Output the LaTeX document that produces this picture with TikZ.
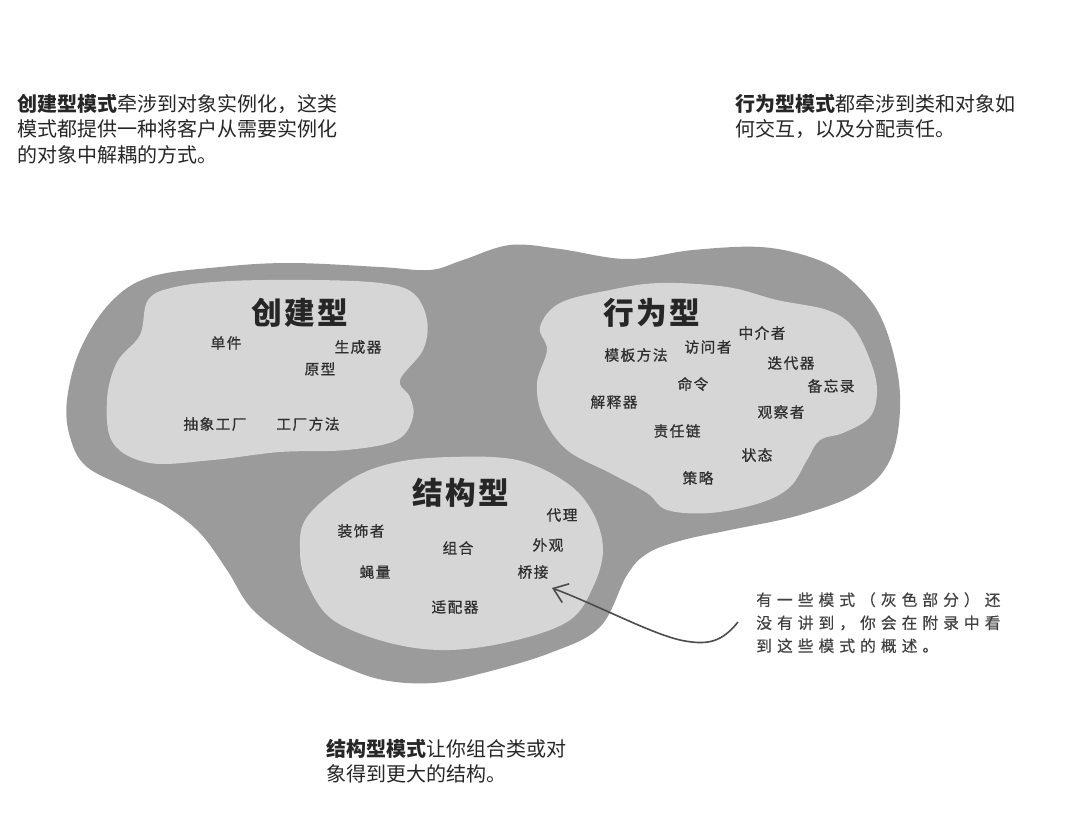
\documentclass[tikz,border=0pt]{standalone}
\usepackage{fontspec}
\setmainfont{Noto Sans CJK SC}
\newfontfamily\kindfont[LetterSpace=8]{Noto Sans CJK SC}
\newfontfamily\patfont[LetterSpace=10,FakeBold=0.8]{Noto Sans CJK SC}
\newfontfamily\remfont[LetterSpace=32,FakeBold=0.4]{Noto Sans CJK SC}
\usepackage{xcolor}
\usepackage{tikz}
\usetikzlibrary{arrows.meta}
\definecolor{outergray}{RGB}{155,155,155}
\definecolor{innergray}{RGB}{214,214,214}

\begin{document}
\begin{tikzpicture}[
		x=0.75pt, y=-0.75pt,
		blurb/.style={
			anchor=north west,
			inner sep=0pt,
			align=left,
			text=black!85,
			font=\fontsize{15}{19}\selectfont
		},
		kind/.style={
			inner sep=0pt,
			text=black!85,
			font=\kindfont\bfseries\fontsize{23}{26}\selectfont
		},
		pat/.style={
			inner sep=0pt,
			text=black!82,
			font=\patfont\fontsize{11}{13}\selectfont
		},
		remark/.style={
			anchor=north west,
			inner sep=0pt,
			align=left,
			text=black!75,
			font=\remfont\fontsize{11.8}{17.25}\selectfont
		},
		pointer/.style={
			-{Straight Barb[length=10pt,width=15pt]},
			line width=1.2pt,
			black!70
		}
		]
		\useasboundingbox (0,0) rectangle (1069,827);
		% Blobs
		\fill[outergray] plot[smooth cycle, tension=0.6] coordinates {
			(150,277) (220,267) (290,263) (380,267) (430,270) (463,260)
			(510,245) (560,249) (627,259) (693,250) (760,247) (810,257)
			(845,275) (877,310) (895,360) (900,410) (890,460) (860,492)
			(800,515) (730,530) (683,540) (648,553) (627,575) (600,627)
			(550,653) (483,673) (433,683) (383,680) (340,665) (300,645)
			(253,610) (227,570) (200,533) (167,507) (133,490) (87,467)
			(70,437) (67,400) (80,350) (110,303)};
		\fill[innergray] plot[smooth cycle, tension=0.6] coordinates {
			(148,300) (175,287) (230,281) (313,280) (380,283) (413,293)
			(427,320) (423,350) (400,380) (410,397) (413,417) (397,440)
			(347,450) (280,452) (213,460) (150,463) (113,443) (107,400)
			(117,362) (140,335)};
		\fill[innergray] plot[smooth cycle, tension=0.6] coordinates {
			(540,327) (560,303) (610,290) (660,283) (727,287) (777,300)
			(827,310) (853,327) (870,360) (877,390) (870,417) (843,433)
			(820,440) (807,460) (790,487) (760,503) (710,513) (667,510)
			(647,493) (610,473) (567,450) (543,417) (537,383) (547,350)};
		\fill[innergray] plot[smooth cycle, tension=0.6] coordinates {
			(307,517) (350,480) (393,463) (450,457) (517,460) (567,483)
			(593,513) (603,550) (593,587) (570,620) (517,640) (450,650)
			(390,643) (333,620) (307,583) (300,550)};
		% Nodes
		\node[blurb] (creatext) at (17,94)
		{\textbf{创建型模式}牵涉到对象实例化，这类\\模式都提供一种将客户从需要实例化\\的对象中解耦的方式。};
		\node[blurb] (behavtext) at (735,94)
		{\textbf{行为型模式}都牵涉到类和对象如\\何交互，以及分配责任。};
		\node[blurb] (structext) at (326,739)
		{\textbf{结构型模式}让你组合类或对\\象得到更大的结构。};
		\node[kind] (crea) at (300,313) {创建型};
		\node[kind] (behav) at (652,313) {行为型};
		\node[kind] (struc) at (461,493) {结构型};
		% Creational
		\node[pat] (singleton) at (226,343) {单件};
		\node[pat] (builder) at (358,347) {生成器};
		\node[pat] (prototype) at (320,369) {原型};
		\node[pat] (absfactory) at (215,424) {抽象工厂};
		\node[pat] (factorymethod) at (308,424) {工厂方法};
		% Behavioral
		\node[pat] (mediator) at (762,333) {中介者};
		\node[pat] (visitor) at (708,347) {访问者};
		\node[pat] (templatemethod) at (636,355) {模板方法};
		\node[pat] (iterator) at (791,363) {迭代器};
		\node[pat] (command) at (693,384) {命令};
		\node[pat] (memento) at (831,386) {备忘录};
		\node[pat] (interpreter) at (614,402) {解释器};
		\node[pat] (observer) at (781,412) {观察者};
		\node[pat] (chain) at (677,431) {责任链};
		\node[pat] (state) at (757,455) {状态};
		\node[pat] (strategy) at (698,478) {策略};
		% Structural
		\node[pat] (proxy) at (562,515) {代理};
		\node[pat] (decorator) at (361,531) {装饰者};
		\node[pat] (composite) at (458,548) {组合};
		\node[pat] (facade) at (548,545) {外观};
		\node[pat] (flyweight) at (375,572) {蝇量};
		\node[pat] (bridge) at (533,572) {桥接};
		\node[pat] (adapter) at (455,607) {适配器};
		% Remark
		\node[remark] (rem) at (756,592)
		{有一些模式（灰色部分）还\\没有讲到，你会在附录中看\\到这些模式的概述。};
		\coordinate (tail) at (738,622);
		\coordinate (tip) at (552,588);
		% Arrows
		\draw[pointer] (tail) .. controls (722,642) and (708,645) .. (685,641)
			.. controls (655,636) and (600,606) .. (tip);
	\end{tikzpicture}
\end{document}
